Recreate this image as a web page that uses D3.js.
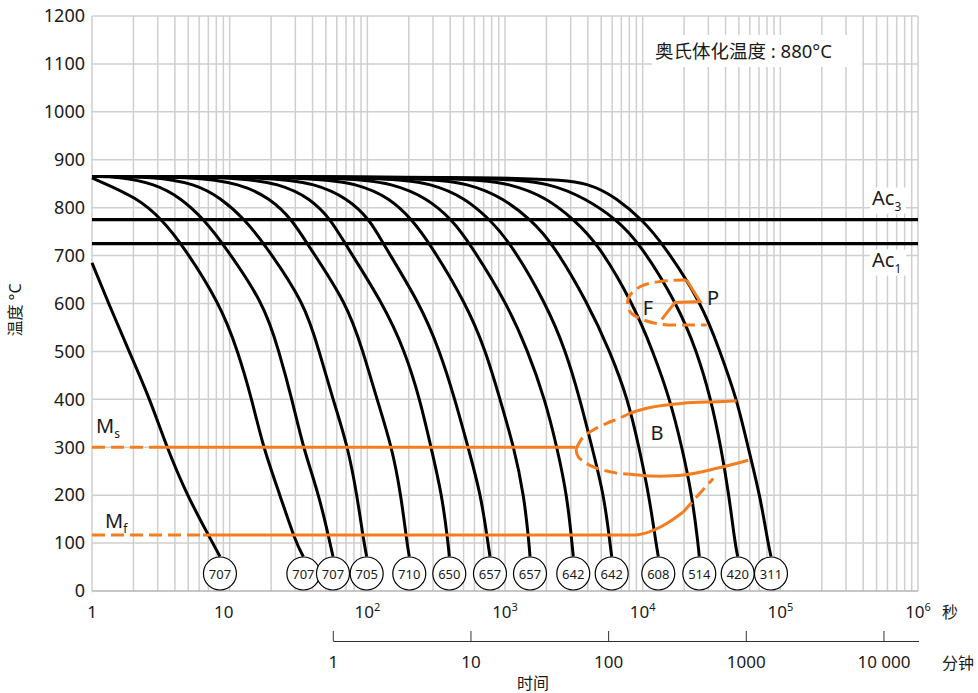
<!DOCTYPE html>
<html lang="zh">
<head>
<meta charset="UTF-8">
<script src="https://cdn.jsdelivr.net/npm/d3@7"></script>
<title>CCT</title>
<style>
body{margin:0;background:#fff}
svg text{font-family:'Noto Sans','Noto Sans CJK SC',sans-serif;fill:#1a1a1a}
</style>
</head>
<body>
<svg id="canvas" width="978" height="693"></svg>
<script>
// cooling curves: [seconds, °C]
const c1 = [[1,685],[1.32,600],[1.86,500],[2.64,400],[3.49,300],[4.9,200],[7.0,117],[8.5,72]]
const c2 = [[1,862],[2.17,820],[3.21,775],[4.48,725],[8.5,600],[11.5,500],[14.5,400],[17.5,300],[23.2,200],[30.3,100],[34.3,72]]
const c3 = [[1,865],[1.55,865],[2.87,850],[4.43,820],[6.51,775],[8.94,725],[17.8,600],[22.8,500],[28.4,400],[34.1,300],[44.6,200],[53.6,100],[56.3,72]]
const c4 = [[1,865],[2.87,865],[5.6,850],[8.65,820],[12.9,775],[17.8,725],[35.3,600],[44.6,500],[56.3,400],[72.4,300],[84.1,200],[94.6,100],[98.9,72]]
const c5 = [[1,865],[5.6,865],[11.9,850],[19.6,820],[28.4,775],[36.5,725],[71.2,600],[93,500],[117.5,400],[151,300],[175.6,200],[194.1,100],[201.7,72]]
const c6 = [[1,865],[10.9,865],[23.2,850],[38.3,820],[54.5,775],[68.8,725],[130,600],[188,500],[241,400],[290,300],[349,200],[386,100],[394,72]]
const c7 = [[1,865],[19.6,865],[42.4,850],[71.2,820],[104.5,775],[130,725],[241,600],[337,500],[433,400],[539,300],[669,200],[752,100],[778,72]]
const c8 = [[1,865],[38.3,865],[85.5,850],[146,820],[211,775],[285,725],[521,600],[728,500],[920,400],[1162,300],[1374,200],[1494,100],[1519,72]]
const c9 = [[1,865],[68.8,865],[156,850],[271,820],[412,775],[557,725],[1034,600],[1469,500],[1952,400],[2386,300],[2820,200],[3066,100],[3133,72]]
const c10 = [[1,865],[134,865],[300,850],[512,820],[778,775],[1105,725],[1985,600],[2773,500],[3505,400],[4284,300],[5236,200],[5789,100],[5957,72]]
const c11 = [[1,865],[241,865],[557,850],[967,820],[1545,775],[2231,725],[4007,600],[5789,500],[7823,400],[9404,300],[11115,200],[12497,100],[12988,72]]
const c12 = [[1,865],[471,865],[1124,850],[2018,820],[3171,775],[4736,725],[8506,600],[11885,500],[15790,400],[19300,300],[22820,200],[25230,100],[25780,72]]
const c13 = [[1,865],[920,865],[2158,850],[3811,820],[6508,775],[9561,725],[17760,600],[24810,500],[31350,400],[37060,300],[42370,200],[46830,100],[49000,72]]
const c14 = [[1,865],[1952,865],[4143,851],[6480,820],[9886,775],[14050,725],[26970,600],[36440,500],[48430,400],[58210,300],[71150,200],[81340,100],[85510,72]]
const curves = [c1,c2,c3,c4,c5,c6,c7,c8,c9,c10,c11,c12,c13,c14]
const hardness = [707,707,707,705,710,650,657,657,642,642,608,514,420,311]

// transformation lines
const ac3 = 775
const ac1 = 725
const msDashed = [[1,300],[2.97,300]]
const msSolid = [[2.97,300],[3224,300]]
const mfDashed = [[1,117],[6.4,117]]
const mfSolid = [[6.4,117],[8790,117],[11300,124],[14940,141],[19720,165]]
const mfEnd = [[19720,165],[32580,235]]
const bUpperDashed = [[3278,296],[3705,322],[4378,336],[5478,350],[6477,358],[8087,371]]
const bUpperSolid = [[8087,371],[11300,383],[19720,392],[34480,395],[48180,397]]
const bLowerDashed = [[3278,296],[3406,280],[4378,259],[6477,246],[7863,244]]
const bLowerSolid = [[7863,244],[11300,240],[19720,242],[34480,256],[58510,273]]
const fRegion = [[20870,649],[13360,646],[9560,635],[7864,611],[8087,583],[10100,566],[13360,557],[20870,555],[29170,555]]
const pLine = [[20870,649],[26090,604],[17170,602],[13750,567]]

// axes
const tempTicks = [0,100,200,300,400,500,600,700,800,900,1000,1100,1200]
const secTicks = [1,10,100,1000,10000,100000,1000000]
const secExp = ['','','2','3','4','5','6']
const minTicks = [1,10,100,1000,10000]
const minLabels = ['1','10','100','1000','10 000']

const svg = d3.select('#canvas')
const orange = '#f47d20'

const x = d3.scaleLog().domain([1,1e6]).range([92,918])
const y = d3.scaleLinear().domain([0,1200]).range([591,16])

// grid
let vGrid = []
for (let d = 0; d < 6; d++) {
    for (let k = 1; k < 10; k++) vGrid.push(k * Math.pow(10, d))
}
vGrid.push(1e6)

svg.append('g').selectAll('line').data(vGrid).enter().append('line')
    .attr('x1', d => x(d)).attr('x2', d => x(d))
    .attr('y1', y(0)).attr('y2', y(1200))
    .attr('stroke', '#cfcfcf').attr('stroke-width', 1.5)

svg.append('g').selectAll('line').data(tempTicks).enter().append('line')
    .attr('x1', x(1)).attr('x2', x(1e6))
    .attr('y1', d => y(d)).attr('y2', d => y(d))
    .attr('stroke', d => d === 0 ? '#b5b5b5' : '#cfcfcf').attr('stroke-width', 1.5)

// y axis
let yAxis = d3.axisLeft(y).tickValues(tempTicks).tickSize(0).tickPadding(7).tickFormat(d3.format('d'))
let gy = svg.append('g').attr('transform', 'translate(' + x(1) + ',0)').call(yAxis)
gy.select('.domain').remove()
gy.selectAll('text').style('font-size', '18px').attr('fill', '#1a1a1a')

svg.append('text')
    .attr('transform', 'translate(21,310) rotate(-90)')
    .attr('text-anchor', 'middle')
    .style('font-size', '16px')
    .text('温度 °C')

// seconds labels
secTicks.forEach((s, i) => {
    let t = svg.append('text')
        .attr('x', x(s) - (s === 10 ? 6 : 0)).attr('y', 618)
        .attr('text-anchor', 'middle')
        .style('font-size', '17px')
    if (secExp[i] === '') {
        t.text(s)
    } else {
        t.append('tspan').text('10')
        t.append('tspan').text(secExp[i]).attr('dy', -7).style('font-size', '11px')
    }
})
svg.append('text').attr('x', 950).attr('y', 618).attr('text-anchor', 'middle')
    .style('font-size', '16px').text('秒')

// minutes axis
let minScale = d3.scaleLog().domain([1/60, 1e6/60]).range([92,918])
let minAxisScale = minScale.copy().domain([1, 18000]).range([minScale(1), minScale(18000)])
let minAxis = d3.axisBottom(minAxisScale).tickValues(minTicks)
    .tickSizeInner(-10).tickSizeOuter(0).tickPadding(15)
    .tickFormat((d, i) => minLabels[i])
let gm = svg.append('g').attr('transform', 'translate(-4,641)').call(minAxis)
gm.select('.domain').attr('stroke', '#333')
gm.selectAll('.tick line').attr('stroke', '#333')
gm.selectAll('text').style('font-size', '17px').attr('fill', '#1a1a1a')
svg.append('text').attr('x', 958).attr('y', 669).attr('text-anchor', 'middle')
    .style('font-size', '16px').text('分钟')
svg.append('text').attr('x', 533).attr('y', 689).attr('text-anchor', 'middle')
    .style('font-size', '16px').text('时间')

// austenitizing note
svg.append('rect').attr('x', 652).attr('y', 35).attr('width', 210).attr('height', 32).attr('fill', '#fff')
svg.append('text').attr('x', 655).attr('y', 58).style('font-size', '18.5px').text('奥氏体化温度 : 880°C')

// Ac lines
;[ac3, ac1].forEach(v => {
    svg.append('line')
        .attr('x1', x(1)).attr('x2', x(1e6))
        .attr('y1', y(v)).attr('y2', y(v))
        .attr('stroke', '#000').attr('stroke-width', 3.2)
})

let acLabel = (v, sub, dy) => {
    svg.append('rect').attr('x', 870).attr('y', y(v) + dy - 17).attr('width', 36).attr('height', 26).attr('fill', '#fff')
    let t = svg.append('text').attr('x', 872).attr('y', y(v) + dy).style('font-size', '20px')
    t.append('tspan').text('Ac')
    t.append('tspan').text(sub).attr('dy', 6).style('font-size', '12px')
}
acLabel(ac3, '3', -15)
acLabel(ac1, '1', 23)

// cooling curves
let line = d3.line().x(d => x(d[0])).y(d => y(d[1])).curve(d3.curveBasis)
let mono = d3.line().x(d => x(d[0])).y(d => y(d[1])).curve(d3.curveMonotoneX)

svg.append('g').selectAll('path').data(curves).enter().append('path')
    .attr('d', line)
    .attr('fill', 'none')
    .attr('stroke', '#000')
    .attr('stroke-width', 3)

// orange lines
let smooth = d3.line().x(d => x(d[0])).y(d => y(d[1])).curve(d3.curveCatmullRom)
let straight = d3.line().x(d => x(d[0])).y(d => y(d[1]))

let drawOrange = (pts, gen, dashed) => {
    svg.append('path')
        .attr('d', gen(pts))
        .attr('fill', 'none')
        .attr('stroke', orange)
        .attr('stroke-width', 3)
        .attr('stroke-dasharray', dashed ? '13,6' : null)
}
drawOrange(msDashed, straight, true)
drawOrange(msSolid, straight, false)
drawOrange(mfDashed, straight, true)
drawOrange(mfSolid, mono, false)
drawOrange(mfEnd, straight, true)
drawOrange(bUpperDashed, smooth, true)
drawOrange(bUpperSolid, smooth, false)
drawOrange(bLowerDashed, smooth, true)
drawOrange(bLowerSolid, smooth, false)
drawOrange(fRegion, smooth, true)
drawOrange(pLine, straight, false)

// region labels
let label = (txt, t, v) => {
    svg.append('text').attr('x', x(t)).attr('y', y(v) + 7)
        .attr('text-anchor', 'middle').style('font-size', '20px').text(txt)
}
label('F', 10930, 590)
label('P', 32420, 611)
label('B', 12700, 330)

let mLabel = (sub, xp, v) => {
    let t = svg.append('text').attr('x', xp).attr('y', y(v)).style('font-size', '20px')
    t.append('tspan').text('M')
    t.append('tspan').text(sub).attr('dy', 5).style('font-size', '12px')
}
mLabel('s', 96, 330)
mLabel('f', 105, 132)

// hardness circles
let cg = svg.append('g').selectAll('g').data(curves).enter().append('g')
    .attr('transform', d => 'translate(' + x(d[d.length - 1][0]) + ',' + (y(0) - 17.5) + ')')
cg.append('circle').attr('r', 16.5).attr('fill', '#fff').attr('stroke', '#000').attr('stroke-width', 1.2)
cg.append('text').attr('text-anchor', 'middle').attr('dy', 5)
    .style('font-size', '13px')
    .text((d, i) => hardness[i])
</script>
</body>
</html>
